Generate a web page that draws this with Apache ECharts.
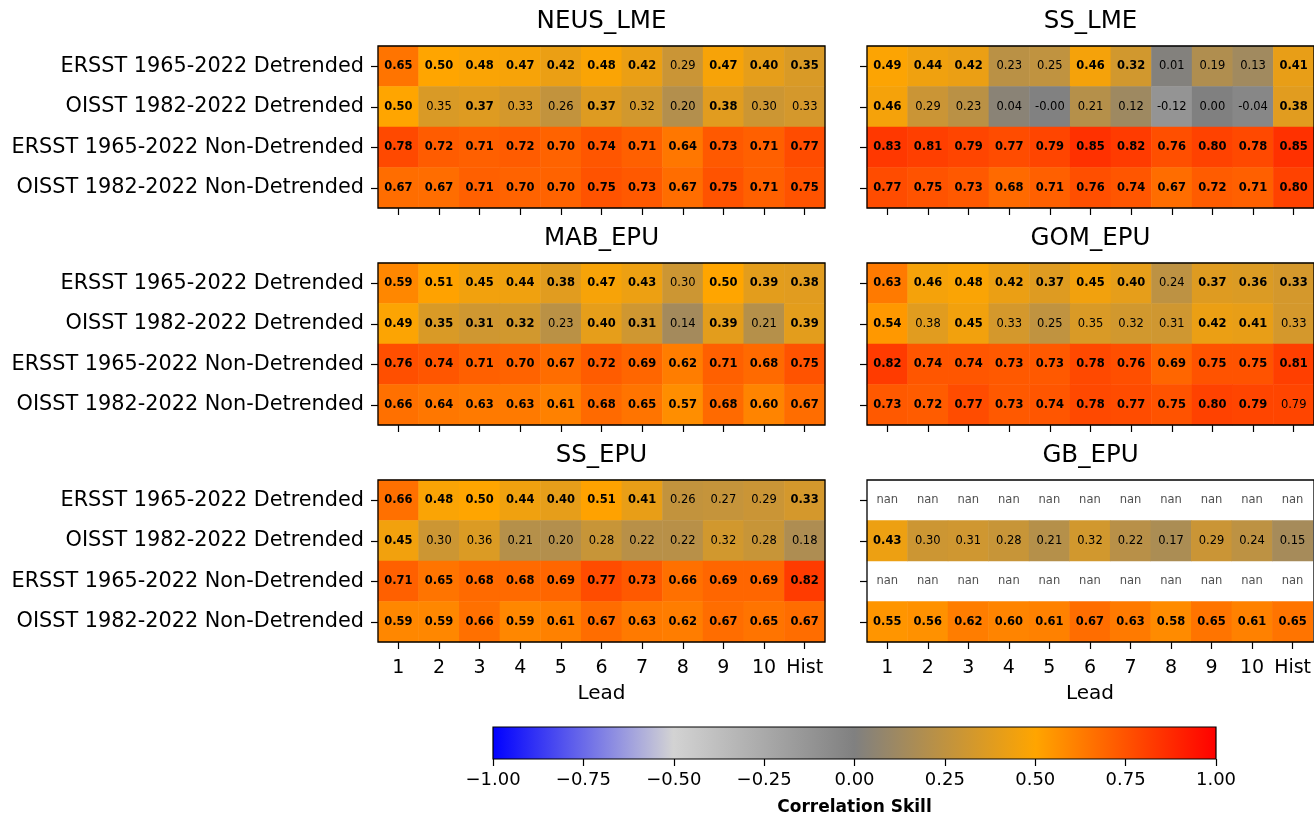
<html style="height: 100%">
	<head>
		<meta charset="utf-8">
	</head>
	<body style="height: 100%; width: 100%; margin: 0; background: #fff">
		<div id="container" style="height: 100%;width: 100%;"></div>
		<script type="text/javascript" src="https://cdn.jsdelivr.net/npm/echarts@6/dist/echarts.min.js"></script>
		<script type="text/javascript">
			var dom = document.getElementById("container");
			var myChart = echarts.init(dom);

			// axes
			var leads = ['1', '2', '3', '4', '5', '6', '7', '8', '9', '10', 'Hist'];
			var products = ['ERSST 1965-2022 Detrended', 'OISST 1982-2022 Detrended',
				'ERSST 1965-2022 Non-Detrended', 'OISST 1982-2022 Non-Detrended'];
			var regions = ['NEUS_LME', 'SS_LME', 'MAB_EPU', 'GOM_EPU', 'SS_EPU', 'GB_EPU'];

			// colormap blue -> lightgrey -> grey -> orange -> red
			var cmap = ['#0000ff', '#d3d3d3', '#808080', '#ffa500', '#ff0000'];
			var cbarTicks = [-1, -0.75, -0.5, -0.25, 0, 0.25, 0.5, 0.75, 1];

			// correlation skill, rows = products, cols = leads
			var neusLme = [
				[0.65, 0.50, 0.48, 0.47, 0.42, 0.48, 0.42, 0.29, 0.47, 0.40, 0.35],
				[0.50, 0.35, 0.37, 0.33, 0.26, 0.37, 0.32, 0.20, 0.38, 0.30, 0.33],
				[0.78, 0.72, 0.71, 0.72, 0.70, 0.74, 0.71, 0.64, 0.73, 0.71, 0.77],
				[0.67, 0.67, 0.71, 0.70, 0.70, 0.75, 0.73, 0.67, 0.75, 0.71, 0.75]
			];
			var ssLme = [
				[0.49, 0.44, 0.42, 0.23, 0.25, 0.46, 0.32, 0.01, 0.19, 0.13, 0.41],
				[0.46, 0.29, 0.23, 0.04, -0.004, 0.21, 0.12, -0.12, 0.00, -0.04, 0.38],
				[0.83, 0.81, 0.79, 0.77, 0.79, 0.85, 0.82, 0.76, 0.80, 0.78, 0.85],
				[0.77, 0.75, 0.73, 0.68, 0.71, 0.76, 0.74, 0.67, 0.72, 0.71, 0.80]
			];
			var mabEpu = [
				[0.59, 0.51, 0.45, 0.44, 0.38, 0.47, 0.43, 0.30, 0.50, 0.39, 0.38],
				[0.49, 0.35, 0.31, 0.32, 0.23, 0.40, 0.31, 0.14, 0.39, 0.21, 0.39],
				[0.76, 0.74, 0.71, 0.70, 0.67, 0.72, 0.69, 0.62, 0.71, 0.68, 0.75],
				[0.66, 0.64, 0.63, 0.63, 0.61, 0.68, 0.65, 0.57, 0.68, 0.60, 0.67]
			];
			var gomEpu = [
				[0.63, 0.46, 0.48, 0.42, 0.37, 0.45, 0.40, 0.24, 0.37, 0.36, 0.33],
				[0.54, 0.38, 0.45, 0.33, 0.25, 0.35, 0.32, 0.31, 0.42, 0.41, 0.33],
				[0.82, 0.74, 0.74, 0.73, 0.73, 0.78, 0.76, 0.69, 0.75, 0.75, 0.81],
				[0.73, 0.72, 0.77, 0.73, 0.74, 0.78, 0.77, 0.75, 0.80, 0.79, 0.79]
			];
			var ssEpu = [
				[0.66, 0.48, 0.50, 0.44, 0.40, 0.51, 0.41, 0.26, 0.27, 0.29, 0.33],
				[0.45, 0.30, 0.36, 0.21, 0.20, 0.28, 0.22, 0.22, 0.32, 0.28, 0.18],
				[0.71, 0.65, 0.68, 0.68, 0.69, 0.77, 0.73, 0.66, 0.69, 0.69, 0.82],
				[0.59, 0.59, 0.66, 0.59, 0.61, 0.67, 0.63, 0.62, 0.67, 0.65, 0.67]
			];
			var gbEpu = [
				[null, null, null, null, null, null, null, null, null, null, null],
				[0.43, 0.30, 0.31, 0.28, 0.21, 0.32, 0.22, 0.17, 0.29, 0.24, 0.15],
				[null, null, null, null, null, null, null, null, null, null, null],
				[0.55, 0.56, 0.62, 0.60, 0.61, 0.67, 0.63, 0.58, 0.65, 0.61, 0.65]
			];

			// significant cells (bold label)
			var neusLmeSig = [
				[1, 1, 1, 1, 1, 1, 1, 0, 1, 1, 1],
				[1, 0, 1, 0, 0, 1, 0, 0, 1, 0, 0],
				[1, 1, 1, 1, 1, 1, 1, 1, 1, 1, 1],
				[1, 1, 1, 1, 1, 1, 1, 1, 1, 1, 1]
			];
			var ssLmeSig = [
				[1, 1, 1, 0, 0, 1, 1, 0, 0, 0, 1],
				[1, 0, 0, 0, 0, 0, 0, 0, 0, 0, 1],
				[1, 1, 1, 1, 1, 1, 1, 1, 1, 1, 1],
				[1, 1, 1, 1, 1, 1, 1, 1, 1, 1, 1]
			];
			var mabEpuSig = [
				[1, 1, 1, 1, 1, 1, 1, 0, 1, 1, 1],
				[1, 1, 1, 1, 0, 1, 1, 0, 1, 0, 1],
				[1, 1, 1, 1, 1, 1, 1, 1, 1, 1, 1],
				[1, 1, 1, 1, 1, 1, 1, 1, 1, 1, 1]
			];
			var gomEpuSig = [
				[1, 1, 1, 1, 1, 1, 1, 0, 1, 1, 1],
				[1, 0, 1, 0, 0, 0, 0, 0, 1, 1, 0],
				[1, 1, 1, 1, 1, 1, 1, 1, 1, 1, 1],
				[1, 1, 1, 1, 1, 1, 1, 1, 1, 1, 0]
			];
			var ssEpuSig = [
				[1, 1, 1, 1, 1, 1, 1, 0, 0, 0, 1],
				[1, 0, 0, 0, 0, 0, 0, 0, 0, 0, 0],
				[1, 1, 1, 1, 1, 1, 1, 1, 1, 1, 1],
				[1, 1, 1, 1, 1, 1, 1, 1, 1, 1, 1]
			];
			var gbEpuSig = [
				[0, 0, 0, 0, 0, 0, 0, 0, 0, 0, 0],
				[1, 0, 0, 0, 0, 0, 0, 0, 0, 0, 0],
				[0, 0, 0, 0, 0, 0, 0, 0, 0, 0, 0],
				[1, 1, 1, 1, 1, 1, 1, 1, 1, 1, 1]
			];

			var panels = [neusLme, ssLme, mabEpu, gomEpu, ssEpu, gbEpu];
			var panelSig = [neusLmeSig, ssLmeSig, mabEpuSig, gomEpuSig, ssEpuSig, gbEpuSig];

			var colLeft = [378, 867];
			var rowTop = [46, 263, 480];
			var gw = 447, gh = 162;
			var font = 'DejaVu Sans';

			function cells(vals, sig) {
				var out = [];
				vals.forEach(function(row, r) {
					row.forEach(function(v, c) {
						if (v === null) return;
						out.push({
							value: [c, r, v],
							label: { fontWeight: sig[r][c] ? 'bold' : 'normal' }
						});
					});
				});
				return out;
			}

			function nanCells(vals) {
				var out = [];
				vals.forEach(function(row, r) {
					row.forEach(function(v, c) {
						if (v === null) out.push([c, r]);
					});
				});
				return out;
			}

			var grids = [], xAxes = [], yAxes = [], series = [], extras = [];

			for (var i = 0; i < 6; i++) {
				var col = i % 2, row = Math.floor(i / 2);
				grids.push({
					left: colLeft[col], top: rowTop[row], width: gw, height: gh,
					show: true, borderWidth: 0, backgroundColor: '#fff'
				});
				xAxes.push({
					type: 'category', gridIndex: i, data: leads, position: 'bottom',
					axisLine: { show: false },
					axisTick: { show: true, length: 7, interval: 0, alignWithLabel: true, lineStyle: { color: '#000', width: 1.2 } },
					axisLabel: { show: row === 2, interval: 0, fontSize: 19, color: '#000', margin: 17, fontFamily: font },
					splitLine: { show: false },
					name: row === 2 ? 'Lead' : '',
					nameLocation: 'middle', nameGap: 42,
					nameTextStyle: { fontSize: 20, color: '#000', fontFamily: font }
				});
				yAxes.push({
					type: 'category', gridIndex: i, data: products, inverse: true,
					axisLine: { show: false },
					axisTick: { show: true, length: 7, interval: 0, alignWithLabel: true, lineStyle: { color: '#000', width: 1.2 } },
					axisLabel: { show: col === 0, interval: 0, fontSize: 20.8, color: '#000', margin: 14, fontFamily: font },
					splitLine: { show: false }
				});
				series.push({
					type: 'heatmap', xAxisIndex: i, yAxisIndex: i,
					data: cells(panels[i], panelSig[i]),
					label: {
						show: true, color: '#000', fontSize: 11.5, fontFamily: font,
						formatter: function(p) { return p.value[2].toFixed(2); }
					},
					emphasis: { disabled: true },
					silent: true
				});
				// panel title
				extras.push({
					type: 'text',
					x: colLeft[col] + gw / 2, y: rowTop[row] - 24,
					style: {
						text: regions[i], fill: '#000', font: '24.5px "DejaVu Sans"',
						align: 'center', verticalAlign: 'middle'
					}
				});
				// panel frame drawn above the cells
				extras.push({
					type: 'rect', z: 100, silent: true,
					shape: { x: colLeft[col], y: rowTop[row], width: gw, height: gh },
					style: { fill: null, stroke: '#000', lineWidth: 1.3 }
				});
			}

			// nan labels (GB_EPU)
			series.push({
				type: 'scatter', xAxisIndex: 5, yAxisIndex: 5,
				data: nanCells(gbEpu), symbolSize: 0, silent: true,
				label: {
					show: true, position: 'inside', formatter: 'nan',
					color: '#222', fontSize: 11.5, fontFamily: font
				}
			});

			// colorbar
			grids.push({
				left: 493, top: 727, width: 723, height: 32,
				show: true, borderColor: '#000', borderWidth: 1.2,
				backgroundColor: new echarts.graphic.LinearGradient(0, 0, 1, 0, cmap.map(function(c, k) {
					return { offset: k / (cmap.length - 1), color: c };
				}))
			});
			xAxes.push({
				type: 'value', gridIndex: 6, min: cbarTicks[0], max: cbarTicks[cbarTicks.length - 1], interval: 0.25,
				axisLine: { show: false },
				axisTick: { show: true, length: 7, lineStyle: { color: '#000', width: 1.2 } },
				axisLabel: {
					fontSize: 18, color: '#000', margin: 12, fontFamily: font,
					showMinLabel: true, showMaxLabel: true,
					formatter: function(v) { return (v < 0 ? '\u2212' : '') + Math.abs(v).toFixed(2); }
				},
				splitLine: { show: false },
				name: 'Correlation Skill', nameLocation: 'middle', nameGap: 40,
				nameTextStyle: { fontSize: 17, fontWeight: 'bold', color: '#000', fontFamily: font }
			});
			yAxes.push({ type: 'value', gridIndex: 6, show: false, min: 0, max: 1 });

			var option = {
				animation: false,
				backgroundColor: '#fff',
				textStyle: { fontFamily: font },
				grid: grids,
				xAxis: xAxes,
				yAxis: yAxes,
				visualMap: {
					type: 'continuous', show: false, min: -1, max: 1,
					dimension: 2, seriesIndex: [0, 1, 2, 3, 4, 5],
					inRange: { color: cmap }
				},
				graphic: extras,
				series: series
			};

			myChart.setOption(option);
		</script>
	</body>
</html>
